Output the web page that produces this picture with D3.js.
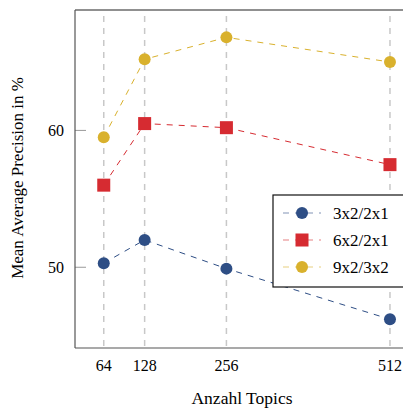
<!DOCTYPE html>
<html>
<head>
<meta charset="utf-8">
<script src="https://cdn.jsdelivr.net/npm/d3@7"></script>
<style>
  body { margin: 0; background: white; }
  svg { display: block; }
</style>
</head>
<body>
<svg id="chart" width="403" height="412"></svg>
<script>
// values
const topics = [64, 128, 256, 512];
const seriesNames = ["3x2/2x1", "6x2/2x1", "9x2/3x2"];
const map3x2 = [50.3, 52.0, 49.9, 46.2];
const map6x2 = [56.0, 60.5, 60.2, 57.5];
const map9x2 = [59.5, 65.2, 66.8, 65.0];
const yTicks = [50, 60];

const colors = ["#2e4e85", "#d62b31", "#d9b12d"];
const shapes = ["circle", "square", "circle"];
const series = [map3x2, map6x2, map9x2].map((vals, i) => ({
    name: seriesNames[i],
    color: colors[i],
    shape: shapes[i],
    points: vals.map((v, j) => ({x: topics[j], y: v}))
}));

const plotLeft = 75, plotTop = 10, plotBottom = 348, plotRight = 420;
const font = "'Liberation Serif', serif";

const x = d3.scaleLinear().domain([19, 559]).range([plotLeft, plotRight]);
const y = d3.scaleLinear().domain([44.1, 68.8]).range([plotBottom, plotTop]);

const svg = d3.select("#chart").style("font-family", font);

/* vertical dashed grid at each topic count */
svg.append("g")
    .selectAll("line")
    .data(topics)
    .join("line")
    .attr("x1", d => x(d)).attr("x2", d => x(d))
    .attr("y1", plotTop + 6).attr("y2", plotBottom)
    .attr("stroke", "#c8c8c8")
    .attr("stroke-width", 1.5)
    .attr("stroke-dasharray", "6,6");

/* y ticks (inside) */
svg.append("g")
    .selectAll("line")
    .data(yTicks)
    .join("line")
    .attr("x1", plotLeft).attr("x2", plotLeft + 11)
    .attr("y1", d => y(d)).attr("y2", d => y(d))
    .attr("stroke", "#999")
    .attr("stroke-width", 1);

svg.append("g")
    .selectAll("text")
    .data(yTicks)
    .join("text")
    .attr("x", plotLeft - 11)
    .attr("y", d => y(d))
    .attr("dy", "0.35em")
    .attr("text-anchor", "end")
    .attr("font-size", 16)
    .text(d => d);

/* x tick labels */
svg.append("g")
    .selectAll("text")
    .data(topics)
    .join("text")
    .attr("x", d => x(d))
    .attr("y", plotBottom + 23)
    .attr("text-anchor", "middle")
    .attr("font-size", 16)
    .text(d => d);

/* frame: top border black, left/bottom axes dark gray */
svg.append("line")
    .attr("x1", plotLeft).attr("x2", 403)
    .attr("y1", plotTop).attr("y2", plotTop)
    .attr("stroke", "#222").attr("stroke-width", 1.2);
svg.append("line")
    .attr("x1", plotLeft).attr("x2", plotLeft)
    .attr("y1", plotTop).attr("y2", plotBottom)
    .attr("stroke", "#555").attr("stroke-width", 1.2);
svg.append("line")
    .attr("x1", plotLeft).attr("x2", 403)
    .attr("y1", plotBottom).attr("y2", plotBottom)
    .attr("stroke", "#555").attr("stroke-width", 1.2);

/* series */
const line = d3.line().x(d => x(d.x)).y(d => y(d.y));

function drawMarker(g, shape, color, cx, cy) {
    if (shape === "square") {
        g.append("rect")
            .attr("x", cx - 6.5).attr("y", cy - 6.5)
            .attr("width", 13).attr("height", 13)
            .attr("fill", color);
    } else {
        g.append("circle")
            .attr("cx", cx).attr("cy", cy)
            .attr("r", 6)
            .attr("fill", color);
    }
}

series.forEach(s => {
    const g = svg.append("g");
    g.append("path")
        .datum(s.points)
        .attr("d", line)
        .attr("fill", "none")
        .attr("stroke", s.color)
        .attr("stroke-width", 1)
        .attr("stroke-dasharray", "6,6");
    s.points.forEach(p => drawMarker(g, s.shape, s.color, x(p.x), y(p.y)));
});

/* legend */
const legend = svg.append("g").attr("transform", "translate(273,195)");
legend.append("rect")
    .attr("x", 0).attr("y", 0)
    .attr("width", 140).attr("height", 92)
    .attr("fill", "white")
    .attr("stroke", "#111")
    .attr("stroke-width", 1.2);

series.forEach((s, i) => {
    const ly = 18 + i * 27;
    const row = legend.append("g");
    row.append("line")
        .attr("x1", 9).attr("x2", 48)
        .attr("y1", ly).attr("y2", ly)
        .attr("stroke", s.color)
        .attr("stroke-opacity", 0.6)
        .attr("stroke-width", 1.2)
        .attr("stroke-dasharray", "6,6")
        .attr("stroke-dashoffset", -1);
    drawMarker(row, s.shape, s.color, 29, ly);
    row.append("text")
        .attr("x", 60)
        .attr("y", ly)
        .attr("dy", "0.35em")
        .attr("font-size", 17)
        .text(s.name);
});

/* axis titles */
svg.append("text")
    .attr("x", 242)
    .attr("y", 404)
    .attr("text-anchor", "middle")
    .attr("font-size", 17.5)
    .text("Anzahl Topics");

svg.append("text")
    .attr("transform", "translate(23,178) rotate(-90)")
    .attr("text-anchor", "middle")
    .attr("font-size", 17)
    .text("Mean Average Precision in %");
</script>
</body>
</html>
